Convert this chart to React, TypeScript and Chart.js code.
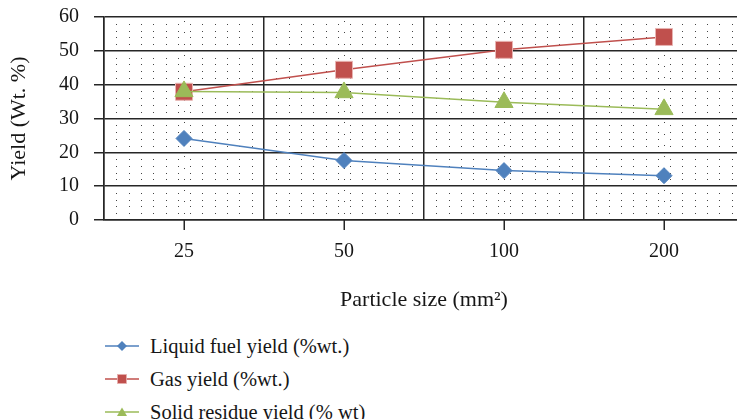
import React, { useEffect, useRef } from 'react';
import { Chart, registerables } from 'chart.js';

Chart.register(...registerables);

const categories = ['25', '50', '100', '200'];
const liquidFuel = [24.1, 17.6, 14.6, 13.1];
const gasYield = [37.9, 44.4, 50.3, 54.1];
const solidResidue = [38.0, 37.7, 34.8, 32.7];
const seriesNames = ['Liquid fuel yield (%wt.)', 'Gas yield (%wt.)', 'Solid residue yield (% wt)'];
const seriesColors = ['#4F81BD', '#C0504D', '#9BBB59'];
const yMin = 0;
const yMax = 60;
const yStep = 10;
const yMinorStep = 2;
const xTitle = 'Particle size (mm\u00B2)';
const yTitle = 'Yield (Wt. %)';

const FONT = "'Liberation Serif', 'Times New Roman', serif";
const TEXT = '#161616';
const GRID = '#262626';

const dotGridPlugin = {
  id: 'dotGrid',
  beforeDatasetsDraw(chart: any) {
    const { ctx, chartArea: a, scales } = chart;
    const x = scales.x;
    const y = scales.y;
    const n = categories.length;
    const catW = n > 1 ? x.getPixelForValue(1) - x.getPixelForValue(0) : a.right - a.left;
    ctx.save();
    ctx.fillStyle = '#444444';
    const cols: number[] = [];
    for (let c = 0; c < n; c++) {
      const start = x.getPixelForValue(c) - catW / 2;
      for (let k = 1; k < 13; k++) cols.push(start + (k * catW) / 13);
    }
    for (let v = yMin + yMinorStep; v < yMax; v += yMinorStep) {
      if (v % yStep === 0) continue;
      const py = Math.round(y.getPixelForValue(v));
      for (const px of cols) ctx.fillRect(Math.round(px), py, 1, 1);
    }
    const rowGap = (y.getPixelForValue(0) - y.getPixelForValue(yStep)) / 3;
    for (let c = 0; c < n; c++) {
      const px = Math.round(x.getPixelForValue(c));
      for (let py = a.top + 4; py < a.bottom - 1; py += rowGap) {
        ctx.fillRect(px, Math.round(py), 1, 1);
      }
    }
    ctx.strokeStyle = GRID;
    ctx.lineWidth = 1.5;
    for (let c = 0; c < n; c++) {
      const px = Math.round(x.getPixelForValue(c)) + 0.25;
      ctx.beginPath();
      ctx.moveTo(px, a.bottom);
      ctx.lineTo(px, a.bottom + 10);
      ctx.stroke();
    }
    ctx.restore();
  },
};

function LegendMarker({ idx }: { idx: number }) {
  const color = seriesColors[idx];
  let shape: React.ReactNode = null;
  if (idx === 0) shape = <polygon points="17,2 22,7 17,12 12,7" fill={color} />;
  else if (idx === 1) shape = <rect x={12.5} y={2.5} width={9} height={9} fill={color} stroke="#E6B0AE" strokeWidth={0.8} />;
  else shape = <polygon points="17,2.5 22,11 12,11" fill={color} />;
  return (
    <svg width={35} height={14} style={{ display: 'block' }}>
      <line x1={0} y1={7} x2={34} y2={7} stroke={color} strokeWidth={1.5} />
      {shape}
    </svg>
  );
}

export default function App() {
  const ref = useRef<HTMLCanvasElement | null>(null);

  useEffect(() => {
    if (!ref.current) return;
    const chart = new Chart(ref.current, {
      type: 'line',
      data: {
        labels: categories,
        datasets: [
          {
            label: seriesNames[0],
            data: liquidFuel,
            borderColor: seriesColors[0],
            backgroundColor: seriesColors[0],
            borderWidth: 1.5,
            pointStyle: 'rectRot',
            pointRadius: 8,
            pointBorderWidth: 1,
            pointBorderColor: seriesColors[0],
            pointBackgroundColor: seriesColors[0],
            order: 2,
          },
          {
            label: seriesNames[1],
            data: gasYield,
            borderColor: seriesColors[1],
            backgroundColor: seriesColors[1],
            borderWidth: 1.5,
            pointStyle: 'rect',
            pointRadius: 12,
            pointBorderWidth: 1,
            pointBorderColor: '#E8B4B2',
            pointBackgroundColor: seriesColors[1],
            order: 1,
          },
          {
            label: seriesNames[2],
            data: solidResidue,
            borderColor: seriesColors[2],
            backgroundColor: seriesColors[2],
            borderWidth: 1.5,
            pointStyle: 'triangle',
            pointRadius: 10.5,
            pointBorderWidth: 1,
            pointBorderColor: seriesColors[2],
            pointBackgroundColor: seriesColors[2],
            order: 0,
          },
        ],
      },
      options: {
        responsive: false,
        animation: false,
        devicePixelRatio: 1,
        layout: { padding: { top: 17, right: 16, left: 0, bottom: 0 } },
        plugins: { legend: { display: false }, tooltip: { enabled: false } },
        scales: {
          x: {
            type: 'category',
            offset: true,
            grid: { offset: true, color: GRID, lineWidth: 1.5, drawTicks: false },
            border: { display: true, color: GRID, width: 1.5 },
            ticks: { color: TEXT, font: { family: FONT, size: 20 }, padding: 20 },
            title: {
              display: true,
              text: xTitle,
              color: TEXT,
              font: { family: FONT, size: 22 },
              padding: { top: 0, bottom: 17 },
            },
            afterFit: (s: any) => {
              s.height = 110;
            },
          },
          y: {
            min: yMin,
            max: yMax,
            ticks: { stepSize: yStep, color: TEXT, font: { family: FONT, size: 20 }, padding: 15 },
            grid: { color: GRID, lineWidth: 1.5, tickLength: 10 },
            border: { display: true, color: GRID, width: 1.5 },
            title: {
              display: true,
              text: yTitle,
              color: TEXT,
              font: { family: FONT, size: 22 },
              padding: { top: 6, bottom: 0 },
            },
            afterFit: (s: any) => {
              s.width = 104;
              s.paddingTop = 8;
              s.paddingBottom = 8;
            },
          },
        },
      },
      plugins: [dotGridPlugin],
    } as any);
    return () => chart.destroy();
  }, []);

  return (
    <div
      style={{
        position: 'fixed',
        left: 0,
        top: 0,
        width: 737,
        height: 419,
        overflow: 'hidden',
        background: '#ffffff',
      }}
    >
      <canvas ref={ref} width={760} height={330} style={{ position: 'absolute', left: 0, top: 0 }} />
      {seriesNames.map((name, i) => (
        <div
          key={name}
          style={{
            position: 'absolute',
            left: 105,
            top: 346 - 16 + i * 33,
            height: 32,
            display: 'flex',
            alignItems: 'center',
            whiteSpace: 'nowrap',
          }}
        >
          <LegendMarker idx={i} />
          <span
            style={{
              marginLeft: 10,
              fontFamily: FONT,
              fontSize: 20.5,
              color: TEXT,
              lineHeight: '32px',
            }}
          >
            {name}
          </span>
        </div>
      ))}
    </div>
  );
}
